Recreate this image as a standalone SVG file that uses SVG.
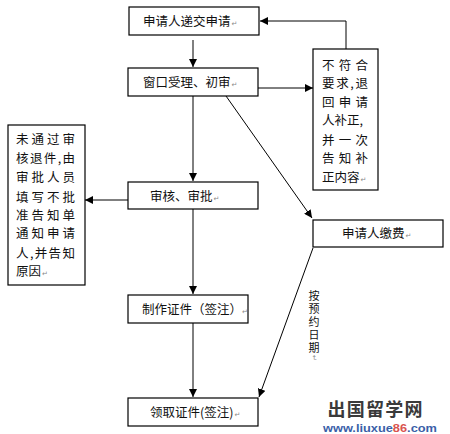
<svg xmlns="http://www.w3.org/2000/svg" width="450" height="434" viewBox="0 0 450 434">
<style>
.box{fill:#fff;stroke:#000;stroke-width:1.2}
.t{font-family:"Noto Sans CJK SC","Liberation Sans",sans-serif;font-size:12.5px;fill:#111}
.rt{font-family:"Noto Sans CJK SC","Liberation Sans",sans-serif;font-size:12.5px;fill:#111}
.vt{font-family:"Noto Sans CJK SC","Liberation Sans",sans-serif;font-size:11px;fill:#111;writing-mode:vertical-rl;letter-spacing:2px}
.pm{font-family:"DejaVu Sans",sans-serif;font-size:7px;fill:#888}
.c{fill:none;stroke:#000;stroke-width:1}
</style>
<defs>
<marker id="ah" viewBox="0 0 10 10" refX="10" refY="5" markerWidth="8" markerHeight="8" markerUnits="userSpaceOnUse" orient="auto">
<path d="M0,0 L10,5 L0,10 z" fill="#000"/>
</marker>
</defs>
<rect width="450" height="434" fill="#fff"/>
<g id="connectors">
<line class="c" x1="193" y1="40" x2="193" y2="67" marker-end="url(#ah)"/>
<line class="c" x1="193" y1="96" x2="193" y2="181" marker-end="url(#ah)"/>
<line class="c" x1="193" y1="209" x2="193" y2="294" marker-end="url(#ah)"/>
<line class="c" x1="193" y1="322" x2="193" y2="397" marker-end="url(#ah)"/>
<line class="c" x1="258" y1="88" x2="313" y2="88" marker-end="url(#ah)"/>
<polyline class="c" points="346,49 346,21 260,21" marker-end="url(#ah)"/>
<line class="c" x1="226" y1="96" x2="312" y2="218" marker-end="url(#ah)"/>
<line class="c" x1="128" y1="200" x2="85" y2="200" marker-end="url(#ah)"/>
<line class="c" x1="313" y1="248" x2="259" y2="397" marker-end="url(#ah)"/>
</g>
<g id="n1">
<rect class="box" x="129" y="7" width="130" height="28"/>
<text class="t" x="143" y="26">申请人递交申请<tspan class="pm" dx="1">↵</tspan></text>
</g>
<g id="n2">
<rect class="box" x="128" y="68" width="130" height="28"/>
<text class="t" x="143" y="87">窗口受理、初审<tspan class="pm" dx="1">↵</tspan></text>
</g>
<g id="n3">
<rect class="box" x="313" y="49" width="65" height="141"/>
<text class="rt" x="322" y="70" textLength="46" lengthAdjust="spacing">不符合</text>
<text class="rt" x="322" y="88" textLength="46" lengthAdjust="spacing">要求,退</text>
<text class="rt" x="322" y="107" textLength="46" lengthAdjust="spacing">回申请</text>
<text class="rt" x="322" y="125">人补正,</text>
<text class="rt" x="322" y="145" textLength="46" lengthAdjust="spacing">并一次</text>
<text class="rt" x="322" y="163" textLength="46" lengthAdjust="spacing">告知补</text>
<text class="rt" x="322" y="182">正内容<tspan class="pm" dx="1">↵</tspan></text>
</g>
<g id="n4">
<rect class="box" x="8" y="125" width="77" height="160"/>
<text class="rt" x="16" y="144" textLength="59" lengthAdjust="spacing">未通过审</text>
<text class="rt" x="16" y="163" textLength="59" lengthAdjust="spacing">核退件,由</text>
<text class="rt" x="16" y="182" textLength="59" lengthAdjust="spacing">审批人员</text>
<text class="rt" x="16" y="202" textLength="59" lengthAdjust="spacing">填写不批</text>
<text class="rt" x="16" y="220" textLength="59" lengthAdjust="spacing">准告知单</text>
<text class="rt" x="16" y="238" textLength="59" lengthAdjust="spacing">通知申请</text>
<text class="rt" x="16" y="258" textLength="59" lengthAdjust="spacing">人,并告知</text>
<text class="rt" x="16" y="276">原因<tspan class="pm" dx="1">↵</tspan></text>
</g>
<g id="n5">
<rect class="box" x="128" y="182" width="130" height="27"/>
<text class="t" x="150" y="201">审核、审批<tspan class="pm" dx="1">↵</tspan></text>
</g>
<g id="n6">
<rect class="box" x="313" y="220" width="130" height="27"/>
<text class="t" x="342" y="238">申请人缴费<tspan class="pm" dx="1">↵</tspan></text>
</g>
<g id="n7">
<rect class="box" x="128" y="295" width="120" height="28"/>
<text class="t" x="142" y="314">制作证件（签注）<tspan class="pm" dx="0">↵</tspan></text>
</g>
<g id="n8">
<rect class="box" x="128" y="398" width="130" height="28"/>
<text class="t" x="150" y="417">领取证件(签注)<tspan class="pm" dx="1">↵</tspan></text>
</g>
<g id="label-date">
<text class="vt" x="314" y="290">按预约日期<tspan class="pm">↵</tspan></text>
</g>
<g id="watermark">
<text x="375" y="416" text-anchor="middle" font-family="Noto Sans CJK SC,sans-serif" font-weight="bold" font-size="18" fill="#3a3a3a" textLength="95" lengthAdjust="spacing">出国留学网</text>
<text x="380" y="432" text-anchor="middle" font-family="Liberation Sans,sans-serif" font-weight="bold" font-size="11" fill="#3a5fa8" textLength="114" lengthAdjust="spacingAndGlyphs">www.liuxue<tspan fill="#d9534f">86</tspan>.com</text>
</g>
</svg>
